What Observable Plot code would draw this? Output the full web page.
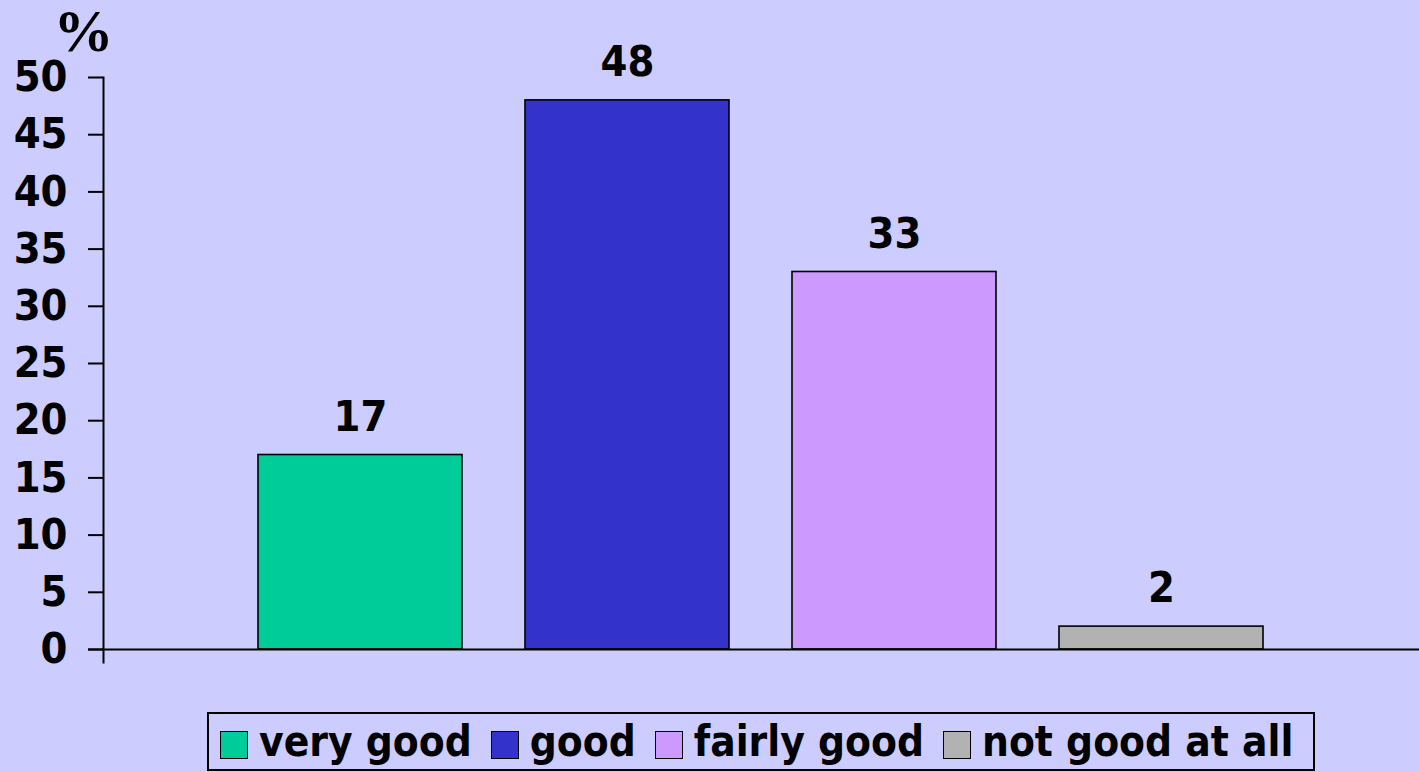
<!DOCTYPE html>
<html>
<head>
<meta charset="utf-8">
<script src="https://cdn.jsdelivr.net/npm/d3@7"></script>
<script src="https://cdn.jsdelivr.net/npm/@observablehq/plot@0.6"></script>
<style>
  html, body { margin: 0; padding: 0; background: #CCCCFF; }
  body { width: 1419px; height: 772px; overflow: hidden; font-family: "DejaVu Sans Condensed", "DejaVu Sans", Verdana, sans-serif; font-weight: bold; }
  #chart svg { display: block; }
  #legend {
    position: absolute; left: 207px; top: 712px; width: 1108px; height: 59px;
    box-sizing: border-box; border: 2px solid #000; display: flex; align-items: center;
    padding-left: 11px; font-size: 42px; color: #000; white-space: nowrap;
  }
  .item { display: flex; align-items: center; margin-right: 19px; }
  .sw { width: 26px; height: 26px; border: 1.5px solid #000; margin-right: 11px; margin-top: 6px; }
</style>
</head>
<body>
<div id="chart"></div>
<div id="legend"></div>
<script>
const categories = ["very good", "good", "fairly good", "not good at all"];
const values = [17, 48, 33, 2];
const colors = ["#00CC99", "#3333CC", "#CC99FF", "#B2B2B2"];
const yTicks = [0, 5, 10, 15, 20, 25, 30, 35, 40, 45, 50];
const yLabel = "%";

const data = categories.map((c, i) => ({category: c, value: values[i]}));
const font = "'DejaVu Sans Condensed', 'DejaVu Sans', Verdana, sans-serif";

const chart = Plot.plot({
  width: 1419,
  height: 700,
  marginLeft: 103,
  marginRight: 0,
  marginTop: 77,
  marginBottom: 51,
  style: {background: "#CCCCFF", fontFamily: font, fontWeight: "bold", color: "#000", overflow: "visible"},
  x: {type: "band", domain: categories, paddingInner: 0.235, paddingOuter: 0.578, axis: null},
  y: {domain: [0, 50], axis: null},
  color: {domain: categories, range: colors},
  marks: [
    Plot.barY(data, {x: "category", y: "value", fill: "category", stroke: "#000", strokeWidth: 1.6}),
    Plot.ruleY([0], {stroke: "#000", strokeWidth: 2, insetLeft: -15}),
    Plot.frame({anchor: "left", stroke: "#000", strokeWidth: 2, insetBottom: -13}),
    Plot.axisY({ticks: yTicks, tickSize: 15, tickPadding: 21, strokeWidth: 2, fontSize: 43, fontWeight: "bold", label: null}),
    Plot.text(data, {x: "category", y: "value", text: d => String(d.value), dy: -38, lineAnchor: "middle", fontSize: 43, fontWeight: "bold", fill: "#000"}),
    Plot.text([yLabel], {frameAnchor: "top-left", text: d => d, dx: -20, dy: -46, lineAnchor: "middle", textAnchor: "middle", fontSize: 60, fontWeight: "bold", fontFamily: "'Liberation Serif', 'Times New Roman', serif", fill: "#000"})
  ]
});
document.getElementById("chart").appendChild(chart);

const legend = document.getElementById("legend");
categories.forEach((c, i) => {
  const item = document.createElement("div");
  item.className = "item";
  const sw = document.createElement("div");
  sw.className = "sw";
  sw.style.background = colors[i];
  const label = document.createElement("span");
  label.textContent = c;
  item.appendChild(sw);
  item.appendChild(label);
  legend.appendChild(item);
});
</script>
</body>
</html>
